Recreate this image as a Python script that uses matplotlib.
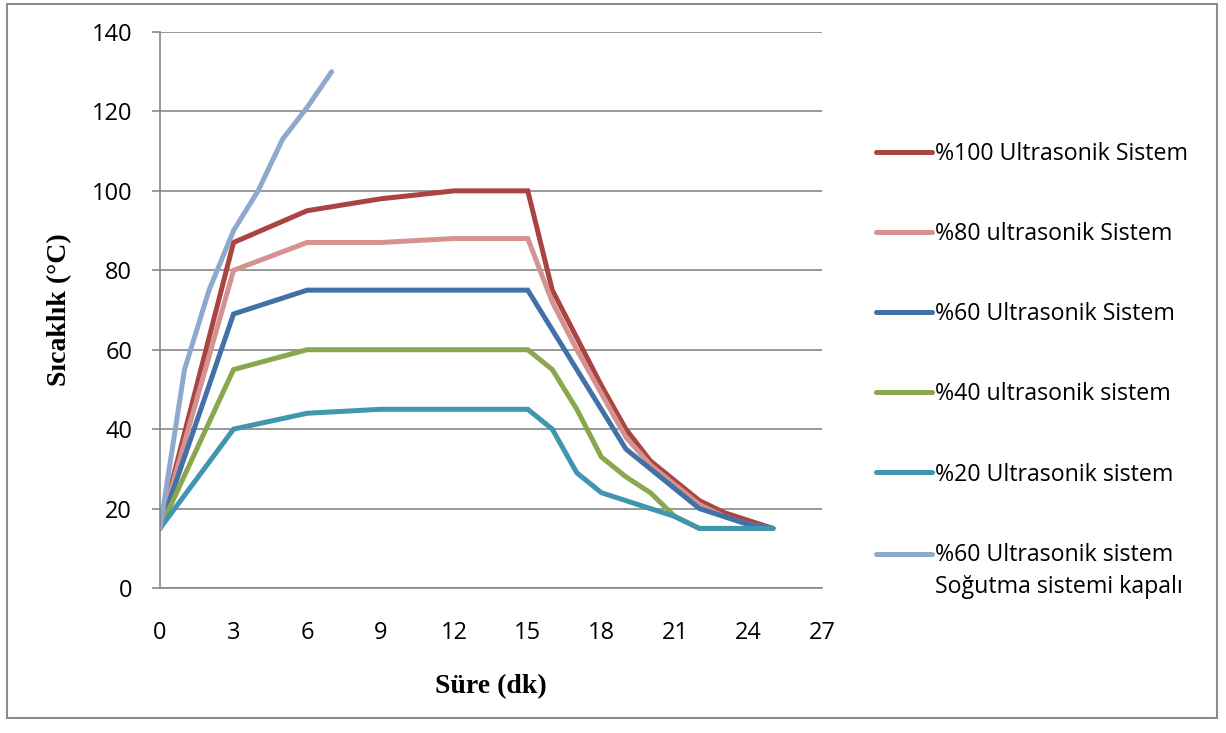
import matplotlib
matplotlib.use("Agg")
import matplotlib.pyplot as plt
from matplotlib.patches import Rectangle

# time axis (dk) and temperatures (°C)
t_main = [0, 3, 6, 9, 12, 15, 16, 17, 18, 19, 20, 21, 22, 23, 24, 25]
t_off = [0, 1, 2, 3, 4, 5, 6, 7]

us100 = [15, 87, 95, 98, 100, 100, 75, 63, 51, 40, 32, 27, 22, 19, 17, 15]
us80 = [15, 80, 87, 87, 88, 88, 72, 60, 49, 38, 31, 26, 21, 18, 16, 15]
us60 = [15, 69, 75, 75, 75, 75, 65, 55, 45, 35, 30, 25, 20, 18, 16, 15]
us40 = [15, 55, 60, 60, 60, 60, 55, 45, 33, 28, 24, 18, 15, 15, 15, 15]
us20 = [15, 40, 44, 45, 45, 45, 40, 29, 24, 22, 20, 18, 15, 15, 15, 15]
us60_off = [15, 55, 75, 90, 100, 113, 121, 130]

labels = [
    "%100 Ultrasonik Sistem",
    "%80 ultrasonik Sistem",
    "%60 Ultrasonik Sistem",
    "%40 ultrasonik sistem",
    "%20 Ultrasonik sistem",
    "%60 Ultrasonik sistem\nSoğutma sistemi kapalı",
]
colors = ["#A94441", "#D59291", "#4271A8", "#89A74C", "#4096AE", "#8FA9CE"]

xticks = list(range(0, 28, 3))
yticks = list(range(0, 141, 20))

tick_font = "Open Sans"
label_font = "Liberation Serif"
grey = "#878787"

fig = plt.figure(figsize=(12.26, 7.33), dpi=100)
ax = fig.add_axes([160 / 1226, 1 - 588 / 733, 662 / 1226, 556 / 733])

series = [(t_main, us100), (t_main, us80), (t_main, us60),
          (t_main, us40), (t_main, us20), (t_off, us60_off)]
for (t, y), lab, c in zip(series, labels, colors):
    ax.plot(t, y, color=c, lw=3.6, label=lab,
            solid_joinstyle="miter", solid_capstyle="round")

ax.set_xlim(0, 27)
ax.set_ylim(0, 140)
ax.set_xticks(xticks)
ax.set_yticks(yticks)
ax.yaxis.grid(True, color=grey, lw=1.2)
ax.set_axisbelow(True)

for side in ["top", "right"]:
    ax.spines[side].set_visible(False)
for side in ["left", "bottom"]:
    ax.spines[side].set_color(grey)
    ax.spines[side].set_linewidth(1.2)

ax.tick_params(axis="y", direction="out", length=6, width=1.2, color=grey,
               pad=14, labelsize=17)
ax.tick_params(axis="x", length=0, pad=24, labelsize=17)
for lbl in ax.get_xticklabels() + ax.get_yticklabels():
    lbl.set_fontfamily(tick_font)

ax.set_xlabel("Süre (dk)", family=label_font, fontweight="bold",
              fontsize=20, labelpad=21)
ax.set_ylabel("Sıcaklık (°C)", family=label_font, fontweight="bold",
              fontsize=20, labelpad=14)

leg = fig.legend(loc="upper left", bbox_to_anchor=(876 / 1226, 1 - 142 / 733),
                 frameon=False, borderpad=0, borderaxespad=0,
                 handlelength=2.4, handletextpad=0.15, labelspacing=2.42,
                 prop={"family": tick_font, "size": 16.7})

# two-line entry: wider line gap, handle beside the first line
leg.get_texts()[-1].set_linespacing(1.45)
last = leg.get_lines()[-1]
last.set_ydata([y + 12.5 for y in last.get_ydata()])

# outer chart border
fig.patches.append(Rectangle((7 / 1226, 1 - 718 / 733), 1210 / 1226, 714 / 733,
                             transform=fig.transFigure, fill=False,
                             edgecolor="#8C8C8C", lw=1.5))

fig.savefig("out.png", dpi=100)
